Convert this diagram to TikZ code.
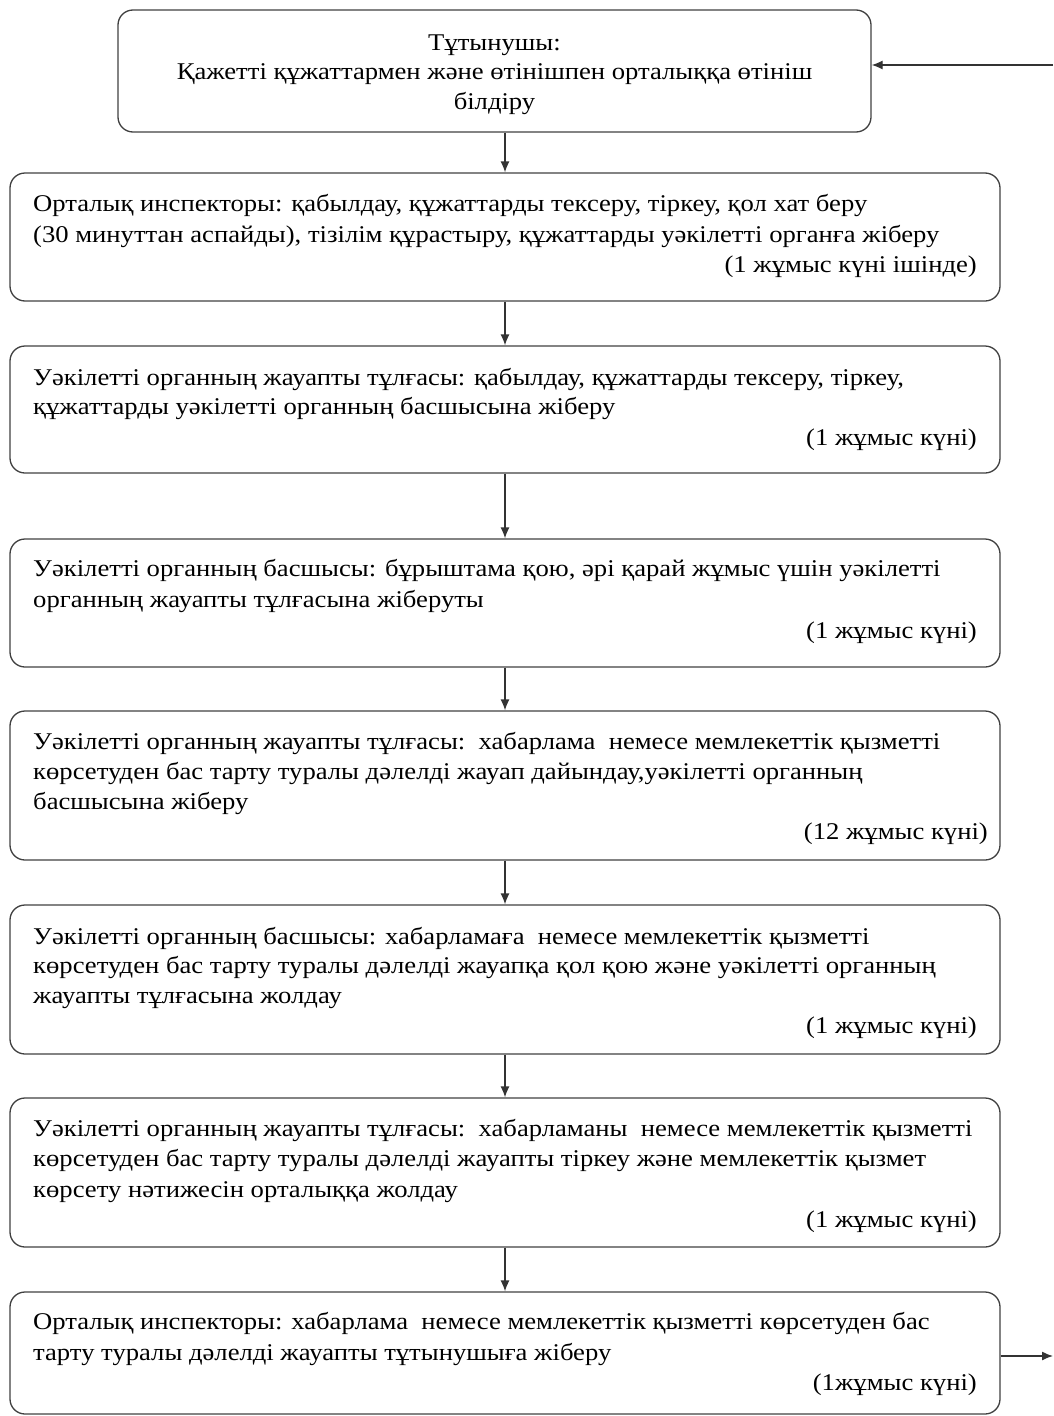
\documentclass[tikz,border=0pt]{standalone}
\usepackage{fontspec}
\setmainfont{Liberation Serif}[FakeStretch=1.11]
\usetikzlibrary{arrows.meta,calc}
\begin{document}
\begin{tikzpicture}[x=1pt,y=-1pt,
  box/.style={draw=black!75,line width=1.3pt,rounded corners=15pt,inner sep=0pt},
  arr/.style={draw=black!80,line width=1.3pt,-{Latex[length=11pt,width=9pt]}},
  tl/.style={anchor=base west,inner sep=0pt,font=\fontsize{24}{30}\selectfont},
  tr/.style={anchor=base east,inner sep=0pt,font=\fontsize{24}{30}\selectfont},
  tc/.style={anchor=base,inner sep=0pt,font=\fontsize{24}{30}\selectfont}]
\useasboundingbox (0,0) rectangle (1053,1416);
\node[box,minimum width=753,minimum height=122] (b1) at (494.5,71) {};
\node[box,minimum width=990,minimum height=128] (b2) at (505,237) {};
\node[box,minimum width=990,minimum height=127] (b3) at (505,409.5) {};
\node[box,minimum width=990,minimum height=128] (b4) at (505,603) {};
\node[box,minimum width=990,minimum height=149] (b5) at (505,785.5) {};
\node[box,minimum width=990,minimum height=149] (b6) at (505,979.5) {};
\node[box,minimum width=990,minimum height=149] (b7) at (505,1172.5) {};
\node[box,minimum width=990,minimum height=122] (b8) at (505,1353) {};
% texts
\node[tc] (t1a) at (494.5,50) {Тұтынушы:};
\node[tc] (t1b) at (494.5,79) {Қажетті құжаттармен және өтінішпен орталыққа өтініш};
\node[tc] (t1c) at (494.5,109) {білдіру};
\node[tl] (t2a) at (33,211) {Орталық инспекторы: қабылдау, құжаттарды тексеру, тіркеу, қол хат беру};
\node[tl] (t2b) at (33,242) {(30 минуттан аспайды), тізілім құрастыру, құжаттарды уәкілетті органға жіберу};
\node[tr] (t2c) at (977,272) {(1 жұмыс күні ішінде)};
\node[tl] (t3a) at (33,385) {Уәкілетті органның жауапты тұлғасы: қабылдау, құжаттарды тексеру, тіркеу,};
\node[tl] (t3b) at (33,414) {құжаттарды уәкілетті органның басшысына жіберу};
\node[tr] (t3c) at (977,445) {(1 жұмыс күні)};
\node[tl] (t4a) at (33,576) {Уәкілетті органның басшысы: бұрыштама қою, әрі қарай жұмыс үшін уәкілетті};
\node[tl] (t4b) at (33,607) {органның жауапты тұлғасына жіберуты};
\node[tr] (t4c) at (977,638) {(1 жұмыс күні)};
\node[tl] (t5a) at (33,749) {Уәкілетті органның жауапты тұлғасы:\ \ хабарлама\ \ немесе мемлекеттік қызметті};
\node[tl] (t5b) at (33,779) {көрсетуден бас тарту туралы дәлелді жауап дайындау,уәкілетті органның};
\node[tl] (t5c) at (33,809) {басшысына жіберу};
\node[tr] (t5d) at (988,839) {(12 жұмыс күні)};
\node[tl] (t6a) at (33,944) {Уәкілетті органның басшысы: хабарламаға\ \ немесе мемлекеттік қызметті};
\node[tl] (t6b) at (33,973) {көрсетуден бас тарту туралы дәлелді жауапқа қол қою және уәкілетті органның};
\node[tl] (t6c) at (33,1003) {жауапты тұлғасына жолдау};
\node[tr] (t6d) at (977,1033) {(1 жұмыс күні)};
\node[tl] (t7a) at (33,1136) {Уәкілетті органның жауапты тұлғасы:\ \ хабарламаны\ \ немесе мемлекеттік қызметті};
\node[tl] (t7b) at (33,1166) {көрсетуден бас тарту туралы дәлелді жауапты тіркеу және мемлекеттік қызмет};
\node[tl] (t7c) at (33,1197) {көрсету нәтижесін орталыққа жолдау};
\node[tr] (t7d) at (977,1227) {(1 жұмыс күні)};
\node[tl] (t8a) at (33,1329) {Орталық инспекторы: хабарлама\ \ немесе мемлекеттік қызметті көрсетуден бас};
\node[tl] (t8b) at (33,1360) {тарту туралы дәлелді жауапты тұтынушыға жіберу};
\node[tr] (t8c) at (977,1390) {(1жұмыс күні)};
% connectors
\draw[arr] (b2.north |- b1.south) -- (b2.north);
\draw[arr] (b2.south) -- (b3.north);
\draw[arr] (b3.south) -- (b4.north);
\draw[arr] (b4.south) -- (b5.north);
\draw[arr] (b5.south) -- (b6.north);
\draw[arr] (b6.south) -- (b7.north);
\draw[arr] (b7.south) -- (b8.north);
\coordinate (r1) at (1053,65);
\coordinate (r8) at (1053,1356);
\draw[arr] (r1) -- (b1.east |- r1);
\draw[arr] (b8.east |- r8) -- (r8);
\end{tikzpicture}
\end{document}
